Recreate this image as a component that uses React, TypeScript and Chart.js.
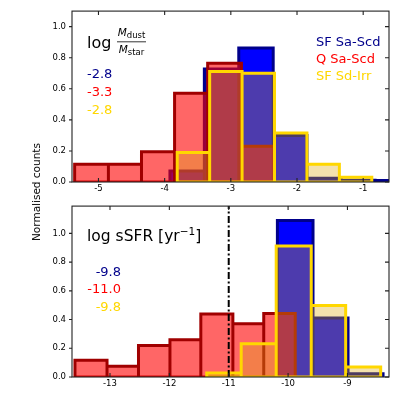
import React, { useEffect, useRef } from 'react';
import { Chart, registerables } from 'chart.js';

Chart.register(...registerables);

const FONT = '"DejaVu Sans"';

// ---------- Top panel: log(Mdust/Mstar) ----------
const dustSfSaScdEdges = [-3.92, -3.4, -2.88, -2.36, -1.85, -1.33, -0.82, -0.3];
const dustSfSaScdCounts = [0.07, 0.727, 0.862, 0.3, 0.024, 0.012, 0.01];
const dustQSaScdEdges = [-5.36, -4.85, -4.35, -3.85, -3.35, -2.84, -2.34];
const dustQSaScdCounts = [0.115, 0.115, 0.194, 0.571, 0.765, 0.23];
const dustSfSdIrrEdges = [-3.81, -3.32, -2.83, -2.34, -1.85, -1.36, -0.87];
const dustSfSdIrrCounts = [0.19, 0.712, 0.7, 0.315, 0.115, 0.03];
const dustMedians = ['-2.8', '-3.3', '-2.8'];

// ---------- Bottom panel: log sSFR ----------
const ssfrSfSaScdEdges = [-10.18, -9.58, -8.99, -8.4];
const ssfrSfSaScdCounts = [1.09, 0.41, 0.023];
const ssfrQSaScdEdges = [-13.59, -13.05, -12.52, -11.99, -11.47, -10.93, -10.41, -9.88];
const ssfrQSaScdCounts = [0.116, 0.074, 0.22, 0.259, 0.439, 0.37, 0.443];
const ssfrSfSdIrrEdges = [-11.37, -10.79, -10.2, -9.61, -9.03, -8.44];
const ssfrSfSdIrrCounts = [0.028, 0.231, 0.912, 0.497, 0.069];
const ssfrMedians = ['-9.8', '-11.0', '-9.8'];
const ssfrThreshold = -11.0;

const seriesNames = ['SF Sa-Scd', 'Q Sa-Scd', 'SF Sd-Irr'];

// axis ranges
const dustXRange = [-5.4, -0.61];
const dustYMax = 1.1;
const ssfrXRange = [-13.64, -8.3];
const ssfrYMax = 1.19;

// styles
const textColors = ['#00008b', '#ff0000', '#ffd700'];
const faceColors = ['#0000ff', 'rgba(255,0,0,0.6)', 'rgba(220,170,20,0.35)'];
const edgeColors = ['#00008b', '#a00000', '#ffd700'];

function histPoints(edges: number[], counts: number[]) {
  const pts: { x: number; y: number }[] = [];
  counts.forEach((c, i) => {
    pts.push({ x: edges[i], y: 0 }, { x: edges[i], y: c }, { x: edges[i + 1], y: c }, { x: edges[i + 1], y: 0 });
  });
  return pts;
}

function histDatasets(edges: number[], counts: number[], k: number) {
  return [
    {
      data: histPoints(edges, counts),
      borderColor: edgeColors[k],
      backgroundColor: faceColors[k],
      borderWidth: 3,
      fill: 'origin',
      pointRadius: 0,
      tension: 0,
      borderJoinStyle: 'miter',
    },
    {
      data: [{ x: edges[0], y: 0 }, { x: edges[edges.length - 1], y: 0 }],
      borderColor: edgeColors[k],
      borderWidth: 3,
      fill: false,
      pointRadius: 0,
    },
  ];
}

const framePlugin = {
  id: 'frameTicks',
  afterDatasetsDraw(chart: any) {
    const { ctx, chartArea } = chart;
    const { left, right, top, bottom } = chartArea;
    const xs = chart.scales.x;
    const ys = chart.scales.y;
    ctx.save();
    ctx.strokeStyle = '#222';
    ctx.lineWidth = 1.1;
    ctx.strokeRect(left, top, right - left, bottom - top);
    ctx.beginPath();
    xs.ticks.forEach((t: any) => {
      const px = xs.getPixelForValue(t.value);
      ctx.moveTo(px, bottom);
      ctx.lineTo(px, bottom - 4);
      ctx.moveTo(px, top);
      ctx.lineTo(px, top + 4);
    });
    ys.ticks.forEach((t: any) => {
      const py = ys.getPixelForValue(t.value);
      ctx.moveTo(left - 3, py);
      ctx.lineTo(left, py);
      ctx.moveTo(right, py);
      ctx.lineTo(right - 4, py);
    });
    ctx.stroke();
    ctx.restore();
  },
};

function sub(ctx: any, base: string, baseSize: number, subText: string, subSize: number, cx: number, y: number, subDy: number) {
  ctx.font = `italic ${baseSize}px ${FONT}`;
  const w1 = ctx.measureText(base).width;
  ctx.font = `${subSize}px ${FONT}`;
  const w2 = ctx.measureText(subText).width;
  const x0 = cx - (w1 + w2) / 2;
  ctx.font = `italic ${baseSize}px ${FONT}`;
  ctx.fillText(base, x0, y);
  ctx.font = `${subSize}px ${FONT}`;
  ctx.fillText(subText, x0 + w1, y + subDy);
}

const topTextPlugin = {
  id: 'topText',
  afterDraw(chart: any) {
    const { ctx } = chart;
    const { left, top } = chart.chartArea;
    ctx.save();
    ctx.textBaseline = 'alphabetic';
    ctx.textAlign = 'left';
    ctx.fillStyle = '#000';
    ctx.font = `16px ${FONT}`;
    ctx.fillText('log', left + 15, top + 37);
    const cx = left + 59.5;
    sub(ctx, 'M', 10.5, 'dust', 8.5, cx, top + 25, 2);
    sub(ctx, 'M', 10.5, 'star', 8.5, cx, top + 41.5, 2);
    ctx.strokeStyle = '#000';
    ctx.lineWidth = 0.8;
    ctx.beginPath();
    ctx.moveTo(left + 45, top + 30.7);
    ctx.lineTo(left + 74, top + 30.7);
    ctx.stroke();
    ctx.font = `13px ${FONT}`;
    dustMedians.forEach((m, i) => {
      ctx.fillStyle = textColors[i];
      ctx.fillText(m, left + 15, top + 67 + i * 17.7);
    });
    seriesNames.forEach((n, i) => {
      ctx.fillStyle = textColors[i];
      ctx.fillText(n, left + 244, top + 35 + i * 17);
    });
    ctx.restore();
  },
};

const bottomTextPlugin = {
  id: 'bottomText',
  afterDraw(chart: any) {
    const { ctx } = chart;
    const { left, top } = chart.chartArea;
    ctx.save();
    ctx.textBaseline = 'alphabetic';
    ctx.textAlign = 'left';
    ctx.fillStyle = '#000';
    const y0 = top + 35;
    ctx.font = `15.5px ${FONT}`;
    const part1 = 'log sSFR [yr';
    ctx.fillText(part1, left + 15, y0);
    let x = left + 15 + ctx.measureText(part1).width;
    ctx.font = `10.5px ${FONT}`;
    ctx.fillText('−1', x, y0 - 6);
    x += ctx.measureText('−1').width;
    ctx.font = `15.5px ${FONT}`;
    ctx.fillText(']', x, y0);
    ctx.font = `13px ${FONT}`;
    ctx.textAlign = 'right';
    ssfrMedians.forEach((m, i) => {
      ctx.fillStyle = textColors[i];
      ctx.fillText(m, left + 49, top + 70 + i * 17.3);
    });
    ctx.restore();
  },
};

function makeOptions(xRange: number[], yMax: number, padTop: number, xAxisH: number) {
  return {
    responsive: false,
    maintainAspectRatio: false,
    animation: false,
    events: [],
    layout: { padding: { left: 0, right: 10, top: padTop, bottom: 0 } },
    plugins: { legend: { display: false }, tooltip: { enabled: false } },
    scales: {
      x: {
        type: 'linear',
        min: xRange[0],
        max: xRange[1],
        grid: { display: false, drawTicks: false },
        border: { display: false },
        ticks: {
          stepSize: 1,
          includeBounds: false,
          autoSkip: false,
          maxRotation: 0,
          padding: 2,
          color: '#000',
          font: { family: 'DejaVu Sans', size: 8.5 },
          callback: (v: number) => (Number.isInteger(v) ? String(v) : ''),
        },
        afterFit: (s: any) => {
          s.height = xAxisH;
        },
      },
      y: {
        type: 'linear',
        min: 0,
        max: yMax,
        grid: { display: false, drawTicks: false },
        border: { display: false },
        ticks: {
          stepSize: 0.2,
          includeBounds: false,
          padding: 6,
          color: '#000',
          font: { family: 'DejaVu Sans', size: 8.5 },
          callback: (v: number) => Number(v).toFixed(1),
        },
        afterFit: (s: any) => {
          s.width = 72;
        },
      },
    },
  };
}

export default function App() {
  const topRef = useRef<HTMLCanvasElement>(null);
  const botRef = useRef<HTMLCanvasElement>(null);

  useEffect(() => {
    const top = new Chart(topRef.current as HTMLCanvasElement, {
      type: 'line',
      data: {
        datasets: [
          ...histDatasets(dustSfSdIrrEdges, dustSfSdIrrCounts, 2),
          ...histDatasets(dustQSaScdEdges, dustQSaScdCounts, 1),
          ...histDatasets(dustSfSaScdEdges, dustSfSaScdCounts, 0),
        ] as any,
      },
      options: makeOptions(dustXRange, dustYMax, 10, 17) as any,
      plugins: [framePlugin, topTextPlugin],
    });
    const bot = new Chart(botRef.current as HTMLCanvasElement, {
      type: 'line',
      data: {
        datasets: [
          {
            data: [
              { x: ssfrThreshold, y: 0 },
              { x: ssfrThreshold, y: ssfrYMax },
            ],
            borderColor: '#000',
            borderWidth: 2,
            borderDash: [7, 2.5, 2, 2.5],
            pointRadius: 0,
            fill: false,
          },
          ...histDatasets(ssfrSfSdIrrEdges, ssfrSfSdIrrCounts, 2),
          ...histDatasets(ssfrQSaScdEdges, ssfrQSaScdCounts, 1),
          ...histDatasets(ssfrSfSaScdEdges, ssfrSfSaScdCounts, 0),
        ] as any,
      },
      options: makeOptions(ssfrXRange, ssfrYMax, 9, 22) as any,
      plugins: [framePlugin, bottomTextPlugin],
    });
    return () => {
      top.destroy();
      bot.destroy();
    };
  }, []);

  return (
    <div style={{ position: 'absolute', left: 0, top: 0, width: 399, height: 399, background: '#fff', overflow: 'hidden' }}>
      <canvas ref={topRef} width={399} height={199} style={{ position: 'absolute', left: 0, top: 0 }} />
      <canvas ref={botRef} width={399} height={204} style={{ position: 'absolute', left: 0, top: 195 }} />
      <div
        style={{
          position: 'absolute',
          left: 36,
          top: 192,
          transform: 'translate(-50%, -50%) rotate(-90deg)',
          whiteSpace: 'nowrap',
          fontFamily: 'DejaVu Sans',
          fontSize: 10.5,
          color: '#000',
        }}
      >
        Normalised counts
      </div>
    </div>
  );
}
